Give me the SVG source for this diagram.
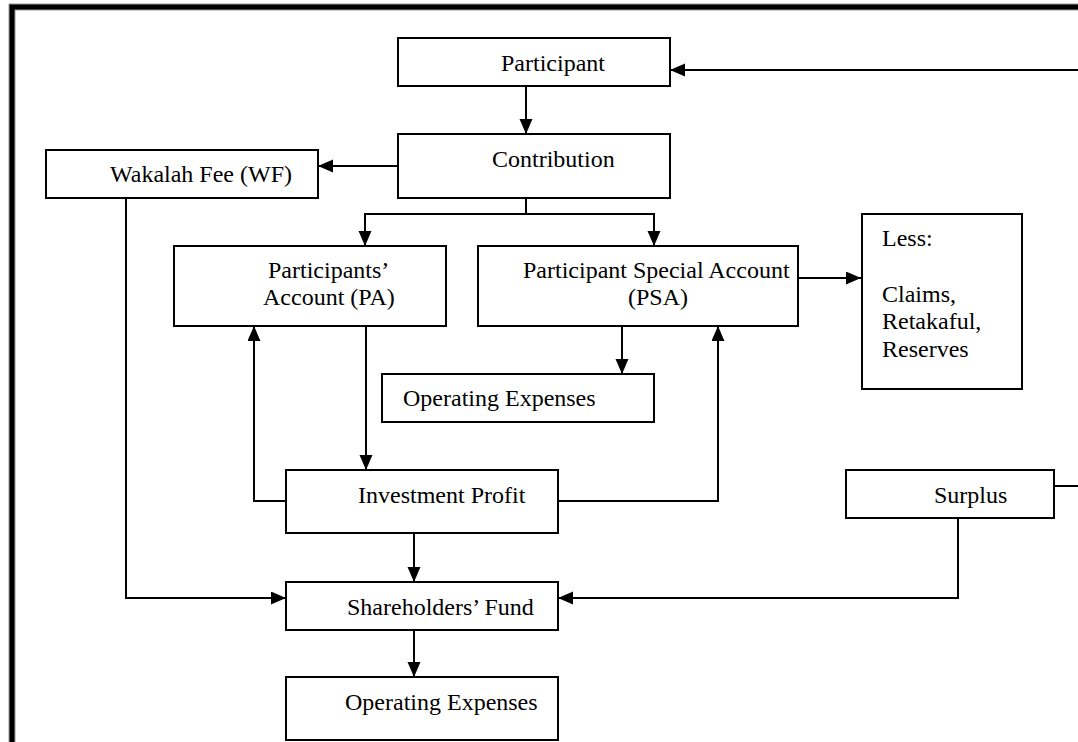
<svg xmlns="http://www.w3.org/2000/svg" width="1078" height="742" viewBox="0 0 1078 742">
<style>
.box{fill:#fff;stroke:#000;stroke-width:2}
.t{font-family:"Liberation Serif","Times New Roman",serif;font-size:24px;fill:#000}
.c{fill:none;stroke:#000;stroke-width:2}
</style>
<defs>
<marker id="ah" markerUnits="userSpaceOnUse" markerWidth="16" markerHeight="14" refX="15" refY="6.5" orient="auto">
<path d="M0,0 L15,6.5 L0,13 z" fill="#000"/>
</marker>
</defs>
<rect width="1078" height="742" fill="#fff"/>
<path d="M12,742 V7 H1078" fill="none" stroke="#999" stroke-width="7"/>
<path d="M12,742 V7 H1078" fill="none" stroke="#000" stroke-width="5"/>
<g id="connectors">
<path class="c" d="M1078,70 H670" marker-end="url(#ah)"/>
<path class="c" d="M526,86 V134" marker-end="url(#ah)"/>
<path class="c" d="M398,166 H318" marker-end="url(#ah)"/>
<path class="c" d="M526,198 V214 H365 V246" marker-end="url(#ah)"/>
<path class="c" d="M526,214 H654 V246" marker-end="url(#ah)"/>
<path class="c" d="M798,278 H861" marker-end="url(#ah)"/>
<path class="c" d="M622,326 V374" marker-end="url(#ah)"/>
<path class="c" d="M366,326 V470" marker-end="url(#ah)"/>
<path class="c" d="M286,501 H254 V326" marker-end="url(#ah)"/>
<path class="c" d="M558,501 H718 V326" marker-end="url(#ah)"/>
<path class="c" d="M414,533 V582" marker-end="url(#ah)"/>
<path class="c" d="M126,198 V598 H286" marker-end="url(#ah)"/>
<path class="c" d="M958,518 V598 H558" marker-end="url(#ah)"/>
<path class="c" d="M414,630 V677" marker-end="url(#ah)"/>
<path class="c" d="M1054,486 H1078"/>
</g>
<g id="participant">
<rect class="box" x="398" y="38" width="272" height="48"/>
<text class="t" x="501" y="71">Participant</text>
</g>
<g id="contribution">
<rect class="box" x="398" y="134" width="272" height="64"/>
<text class="t" x="492" y="167">Contribution</text>
</g>
<g id="wakalah-fee">
<rect class="box" x="46" y="150" width="272" height="48"/>
<text class="t" x="110" y="182">Wakalah Fee (WF)</text>
</g>
<g id="pa">
<rect class="box" x="174" y="246" width="272" height="80"/>
<text class="t" x="268" y="278">Participants’</text>
<text class="t" x="263" y="305">Account (PA)</text>
</g>
<g id="psa">
<rect class="box" x="478" y="246" width="320" height="80"/>
<text class="t" x="523" y="278">Participant Special Account</text>
<text class="t" x="628" y="305">(PSA)</text>
</g>
<g id="less">
<rect class="box" x="862" y="214" width="160" height="175"/>
<text class="t" x="882" y="246">Less:</text>
<text class="t" x="882" y="302">Claims,</text>
<text class="t" x="882" y="329">Retakaful,</text>
<text class="t" x="882" y="357">Reserves</text>
</g>
<g id="opex1">
<rect class="box" x="382" y="374" width="272" height="48"/>
<text class="t" x="403" y="406">Operating Expenses</text>
</g>
<g id="investment-profit">
<rect class="box" x="286" y="470" width="272" height="63"/>
<text class="t" x="358" y="503">Investment Profit</text>
</g>
<g id="surplus">
<rect class="box" x="846" y="470" width="208" height="48"/>
<text class="t" x="934" y="503">Surplus</text>
</g>
<g id="shareholders-fund">
<rect class="box" x="286" y="582" width="272" height="48"/>
<text class="t" x="347" y="615">Shareholders’ Fund</text>
</g>
<g id="opex2">
<rect class="box" x="286" y="677" width="272" height="63"/>
<text class="t" x="345" y="710">Operating Expenses</text>
</g>
</svg>
